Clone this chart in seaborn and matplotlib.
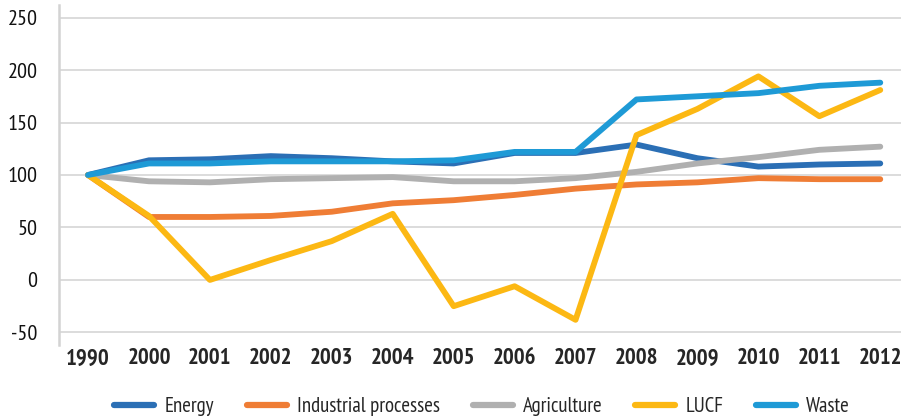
import pandas as pd
import matplotlib.pyplot as plt
import seaborn as sns
from matplotlib.lines import Line2D

# === data ===
years = ["1990", "2000", "2001", "2002", "2003", "2004", "2005",
         "2006", "2007", "2008", "2009", "2010", "2011", "2012"]
energy = [100, 114, 115, 118, 116, 113, 111, 121, 121, 129, 116, 108, 110, 111]
industrial = [100, 60, 60, 61, 65, 73, 76, 81, 87, 91, 93, 97, 96, 96]
agriculture = [100, 94, 93, 96, 97, 98, 94, 94, 97, 103, 111, 117, 124, 127]
lucf = [100, 61, 0, 19, 37, 63, -25, -6, -38, 138, 163, 194, 156, 181]
waste = [100, 111, 111, 113, 113, 113, 114, 122, 122, 172, 175, 178, 185, 188]

series_names = ["Energy", "Industrial processes", "Agriculture", "LUCF", "Waste"]
series_vals = [energy, industrial, agriculture, lucf, waste]
colors = ["#2b6fb5", "#ef7d35", "#b0b0b0", "#fcb813", "#1e9ad6"]

rows = []
for name, vals in zip(series_names, series_vals):
    for y, v in zip(years, vals):
        rows.append({"Year": y, "Value": v, "Sector": name})
df = pd.DataFrame(rows)

# === style ===
sns.set_style("white")
plt.rcParams["font.family"] = ["PT Sans Narrow", "Fira Sans Condensed", "DejaVu Sans"]

fig = plt.figure(figsize=(9.01, 4.20), dpi=100)
ax = fig.add_axes([59 / 901, 1 - 345 / 420, 1 - 59 / 901, 340 / 420])

sns.lineplot(data=df, x="Year", y="Value", hue="Sector", hue_order=series_names,
             palette=dict(zip(series_names, colors)), linewidth=4.2,
             sort=False, legend=False, ax=ax,
             solid_capstyle="round", solid_joinstyle="round")

ax.set_ylim(-62, 262)
ax.set_xlim(-0.476, 13.34)
ax.set_yticks(range(-50, 251, 50))
ax.set_yticklabels([str(v) for v in range(-50, 251, 50)], fontsize=16)
ax.yaxis.grid(True, color="#d9d9d9", linewidth=1.3)
ax.set_axisbelow(True)
ax.tick_params(axis="y", length=6.5, width=1.3, color="#d9d9d9", pad=9,
               labelcolor="#111111")
ax.tick_params(axis="x", length=0, pad=2.5, labelsize=16.5)
for lbl in ax.get_xticklabels():
    lbl.set_fontweight("bold")

for s in ["top", "right", "bottom"]:
    ax.spines[s].set_visible(False)
ax.spines["left"].set_color("#d3d3d3")
ax.spines["left"].set_linewidth(1.8)
ax.set_xlabel("")
ax.set_ylabel("")

# legend under the chart, one row
handles = [Line2D([0], [0], color=c, linewidth=4.5, solid_capstyle="round")
           for c in colors]
fig.legend(handles, series_names, loc="center",
           bbox_to_anchor=(482 / 901, 1 - 407 / 420), ncol=5, frameon=False,
           fontsize=15, handlelength=1.92, handletextpad=0.48, columnspacing=1.58)

fig.savefig("out.png", dpi=100)
